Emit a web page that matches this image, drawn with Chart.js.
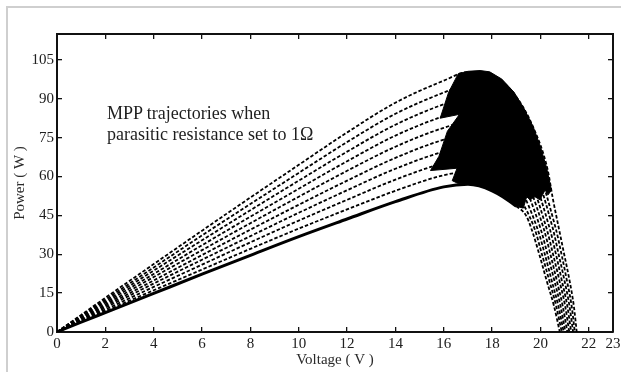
<!DOCTYPE html>
<html>
<head>
<meta charset="utf-8">
<script src="https://cdn.jsdelivr.net/npm/chart.js@4/dist/chart.umd.min.js"></script>
<style>
  html, body { margin: 0; padding: 0; background: #fff; }
  #wrap { position: relative; width: 621px; height: 372px; overflow: hidden; }
  #frame { position: absolute; left: 6px; top: 6px; width: 700px; height: 400px;
           border-top: 2px solid #cfcfcf; border-left: 2px solid #cfcfcf; }
  #chart { position: absolute; left: 0; top: 0; }
  #note { position: absolute; left: 107px; top: 103px; font: 18px/21px "Liberation Serif", serif;
          color: #1e1e1e; white-space: nowrap; }
</style>
</head>
<body>
<div id="wrap">
  <div id="frame"></div>
  <canvas id="chart" width="621" height="372"></canvas>
  <div id="note">MPP trajectories when<br>parasitic resistance set to 1Ω</div>
</div>
<script>
// tick labels
const xTicks = [0, 2, 4, 6, 8, 10, 12, 14, 16, 18, 20, 22, 23];
const yTicks = [0, 15, 30, 45, 60, 75, 90, 105];

// rising part of the P-V curves, power (W) at these voltages (V)
const riseV = [0, 1, 2, 4, 6, 8, 10, 12, 14, 16, 17, 18];
const riseP = [
  [0, 3.8, 7.5, 14.9, 22.3, 29.6, 36.8, 43.6, 50.3, 56.0, 57.0, 54.5],
  [0, 4.1, 8.1, 16.1, 24.1, 32.1, 39.9, 47.3, 54.5, 60.5, 61.8, 59.5],
  [0, 4.4, 8.7, 17.4, 26.0, 34.6, 43.0, 51.0, 58.8, 65.1, 66.6, 64.4],
  [0, 4.7, 9.4, 18.7, 27.9, 37.0, 46.0, 54.7, 63.0, 69.6, 71.4, 69.3],
  [0, 5.0, 10.0, 19.9, 29.7, 39.5, 49.1, 58.4, 67.2, 74.2, 76.2, 74.3],
  [0, 5.3, 10.6, 21.2, 31.6, 42.0, 52.2, 62.2, 71.5, 78.8, 81.1, 79.3],
  [0, 5.7, 11.3, 22.4, 33.5, 44.5, 55.3, 65.9, 75.8, 83.3, 85.9, 84.2],
  [0, 6.0, 11.9, 23.7, 35.4, 47.0, 58.4, 69.6, 80.0, 87.9, 90.7, 89.2],
  [0, 6.3, 12.5, 24.9, 37.3, 49.4, 61.4, 73.3, 84.2, 92.4, 95.5, 94.1],
  [0, 6.6, 13.2, 26.2, 39.1, 51.9, 64.5, 77.0, 88.5, 97.0, 100.3, 99.0]
];

// falling part after the knee
const fallV = [[19, 19.4], [19], [19], [19], [19], [19], [19], [19], [19], [18.9, 19.7, 20.3, 20.5]];
const fallP = [[48.5, 45], [53.2], [57.8], [62.5], [67.1], [71.8], [76.4], [81.1], [85.7], [92, 79, 62.5, 52]];

// tails: voltage where each curve reaches these power levels
const tailP = [40, 30, 20, 10, 0];
const tailV = [
  [19.62, 19.95, 20.25, 20.56, 20.8],
  [19.75, 20.06, 20.36, 20.65, 20.88],
  [19.87, 20.18, 20.46, 20.74, 20.96],
  [20.0, 20.29, 20.57, 20.83, 21.03],
  [20.13, 20.41, 20.67, 20.92, 21.11],
  [20.25, 20.52, 20.78, 21.02, 21.19],
  [20.38, 20.64, 20.88, 21.11, 21.27],
  [20.51, 20.75, 20.99, 21.2, 21.35],
  [20.63, 20.87, 21.09, 21.29, 21.42],
  [20.76, 20.98, 21.2, 21.38, 21.5]
];

// outline of the black MPP trajectory region
const mppV = [16.6, 17.0, 17.5, 17.9, 18.4, 18.9, 19.3, 19.7, 20.0, 20.25, 20.4, 20.46,
  20.31, 20.19, 19.98, 19.77, 19.57, 19.43, 19.29, 19.0, 18.5, 18.0, 17.5, 17.0, 16.6, 16.35,
  16.55, 15.45, 15.8, 16.15, 16.65, 15.85, 16.2, 16.6];
const mppP = [99.7, 100.6, 100.9, 100.4, 97.6, 92.6, 86.6, 79.2, 71.5, 63.5, 57, 54.8,
  52.9, 54.8, 51.0, 52.2, 51.0, 52.2, 47.8, 48.5, 52.4, 54.5, 56.4, 57.0, 57.3, 58.4,
  63.2, 62.3, 67.8, 77.5, 84.0, 82.5, 92.5, 99.7];

const serif = '"Liberation Serif", "Times New Roman", serif';
const dash = [3.5, 2];

const datasets = [{
  data: mppV.map((v, i) => ({ x: v, y: mppP[i] })),
  showLine: true,
  fill: 'shape',
  backgroundColor: '#000',
  borderColor: '#000',
  borderWidth: 1,
  pointRadius: 0,
  tension: 0
}];

riseP.forEach((rp, k) => {
  const pts = riseV.map((v, i) => ({ x: v, y: rp[i] }));
  fallV[k].forEach((v, i) => pts.push({ x: v, y: fallP[k][i] }));
  tailV[k].forEach((v, i) => pts.push({ x: v, y: tailP[i] }));
  const solid = k === 0;
  datasets.push({
    data: pts,
    showLine: true,
    borderColor: '#000',
    borderWidth: solid ? 3 : 1.8,
    borderDash: solid ? [] : dash,
    pointRadius: 0,
    cubicInterpolationMode: 'monotone',
    fill: false,
    // the lowest curve is solid up to the knee, dashed down its tail
    segment: solid ? {
      borderDash: c => c.p0.parsed.x >= 19 ? dash : undefined,
      borderWidth: c => c.p0.parsed.x >= 19 ? 1.8 : undefined
    } : undefined
  });
});

function boxAxis(position, min, max, ticks, showLabels, title) {
  const horizontal = position === 'top' || position === 'bottom';
  return {
    type: 'linear',
    position: position,
    min: min,
    max: max,
    afterBuildTicks: s => { s.ticks = ticks.map(v => ({ value: v })); },
    afterFit: s => {
      if (horizontal) {
        s.height = position === 'bottom' ? 40 : 0;
        s.paddingLeft = 0;
        s.paddingRight = 0;
      } else {
        s.width = position === 'left' ? 57 : 0;
        s.paddingTop = 0;
        s.paddingBottom = 0;
      }
    },
    border: { display: true, color: '#111', width: 2 },
    grid: { drawOnChartArea: false, drawTicks: true, tickLength: -5, color: '#111', lineWidth: 1.3 },
    ticks: {
      display: showLabels,
      color: '#202020',
      font: { family: serif, size: 15 },
      padding: 8,
      autoSkip: false,
      maxRotation: 0,
      callback: v => String(v)
    },
    title: title ? {
      display: true,
      text: title,
      color: '#2a2a2a',
      font: { family: serif, size: 15 },
      padding: horizontal ? { top: 0, bottom: 3 } : { top: 11, bottom: 0 }
    } : { display: false }
  };
}

new Chart(document.getElementById('chart'), {
  type: 'scatter',
  data: { datasets: datasets },
  options: {
    responsive: false,
    animation: false,
    devicePixelRatio: 1,
    layout: { padding: { top: 34, right: 8, left: 0, bottom: 0 } },
    plugins: { legend: { display: false }, tooltip: { enabled: false } },
    scales: {
      x: boxAxis('bottom', 0, 23, xTicks, true, 'Voltage ( V )'),
      x2: boxAxis('top', 0, 23, xTicks, false, null),
      y: boxAxis('left', 0, 115, yTicks, true, 'Power ( W )'),
      y2: boxAxis('right', 0, 115, yTicks, false, null)
    }
  }
});
</script>
</body>
</html>
